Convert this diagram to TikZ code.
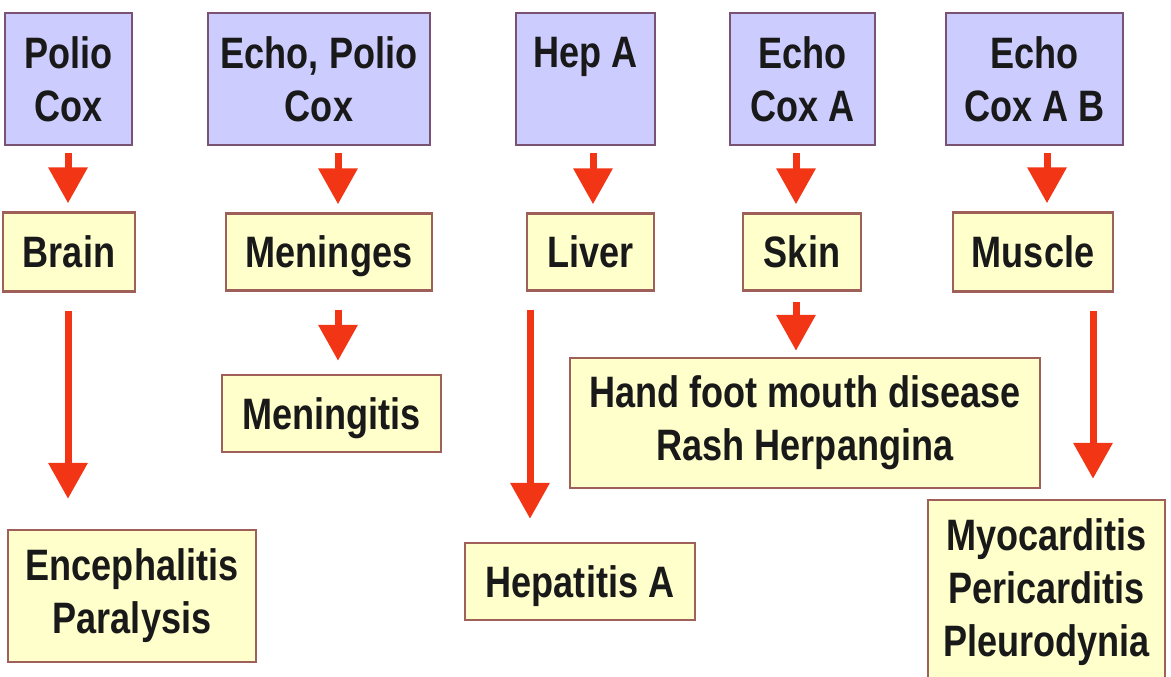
\documentclass[tikz,border=0pt]{standalone}
\usepackage{fontspec}
\setmainfont{Liberation Sans}[FakeStretch=0.82]
\usetikzlibrary{arrows.meta}
\definecolor{virfill}{HTML}{CCCCFF}
\definecolor{virline}{HTML}{7A5274}
\definecolor{orgfill}{HTML}{FFFFCC}
\definecolor{orgline}{HTML}{A0605A}
\definecolor{arrred}{HTML}{F23515}
\begin{document}
\begin{tikzpicture}[x=1pt,y=-1pt,
  every node/.style={font=\fontsize{44}{53}\selectfont\bfseries,text=black!90,align=center,inner sep=0pt,line width=2.5pt},
  vir/.style={draw=virline,fill=virfill},org/.style={draw=orgline,fill=orgfill},
  one/.style={org,text depth=0pt},
  e/.style={-{Triangle[length=36pt,width=38pt]},line width=7pt,draw=arrred}]
\useasboundingbox (0,0) rectangle (1171,677);
\node[vir,minimum width=127,minimum height=132] (PolioCox) at (68.5,79) {Polio\\Cox};
\node[vir,minimum width=222,minimum height=132] (EchoPolioCox) at (319,79) {Echo, Polio\\Cox};
\node[vir,minimum width=139,minimum height=132] (HepA) at (585.5,79) {Hep A\\\mbox{}};
\node[vir,minimum width=145,minimum height=132] (EchoCoxA) at (802.5,79) {Echo\\Cox A};
\node[vir,minimum width=177,minimum height=132] (EchoCoxAB) at (1034.5,79) {Echo\\Cox A B};
\node[one,minimum width=132,minimum height=79] (Brain) at (69,252) {Brain};
\node[one,minimum width=206,minimum height=77] (Meninges) at (329,252) {Meninges};
\node[one,minimum width=127,minimum height=77] (Liver) at (590.5,252) {Liver};
\node[one,minimum width=118,minimum height=77] (Skin) at (802,252) {Skin};
\node[one,minimum width=160,minimum height=79] (Muscle) at (1033,252) {Muscle};
\node[one,minimum width=219,minimum height=77] (Meningitis) at (331.5,413.5) {Meningitis};
\node[org,minimum width=470,minimum height=130] (HandFoot) at (805,423) {Hand foot mouth disease\\Rash Herpangina};
\node[org,minimum width=248,minimum height=132] (Encephalitis) at (132,596) {Encephalitis\\Paralysis};
\node[one,minimum width=230,minimum height=77] (HepatitisA) at (580,581.5) {Hepatitis A};
\node[org,minimum width=237,minimum height=185] (Myocarditis) at (1046.5,592.5) {Myocarditis\\Pericarditis\\Pleurodynia};
\draw[e,shorten <=7pt,shorten >=8pt] ([xshift=-0.5]PolioCox.south) -- ([xshift=-1]Brain.north);
\draw[e,shorten <=7pt,shorten >=8pt] ([xshift=19]EchoPolioCox.south) -- ([xshift=9]Meninges.north);
\draw[e,shorten <=7pt,shorten >=8pt] ([xshift=7.5]HepA.south) -- ([xshift=2.5]Liver.north);
\draw[e,shorten <=7pt,shorten >=8pt] ([xshift=-6.5]EchoCoxA.south) -- ([xshift=-6]Skin.north);
\draw[e,shorten <=7pt,shorten >=8pt] ([xshift=12.5]EchoCoxAB.south) -- ([xshift=14]Muscle.north);
\draw[e,shorten <=18pt,shorten >=30pt] ([xshift=-1]Brain.south) -- ([xshift=-64]Encephalitis.north);
\draw[e,shorten <=18pt,shorten >=13pt] ([xshift=9]Meninges.south) -- ([xshift=6.5]Meningitis.north);
\draw[e,shorten <=18pt,shorten >=23pt] ([xshift=-60.5]Liver.south) -- ([xshift=-50]HepatitisA.north);
\draw[e,shorten <=10pt,shorten >=6pt] ([xshift=-6]Skin.south) -- ([xshift=-9]HandFoot.north);
\draw[e,shorten <=18pt,shorten >=20pt] ([xshift=60]Muscle.south) -- ([xshift=46.5]Myocarditis.north);
\end{tikzpicture}
\end{document}
